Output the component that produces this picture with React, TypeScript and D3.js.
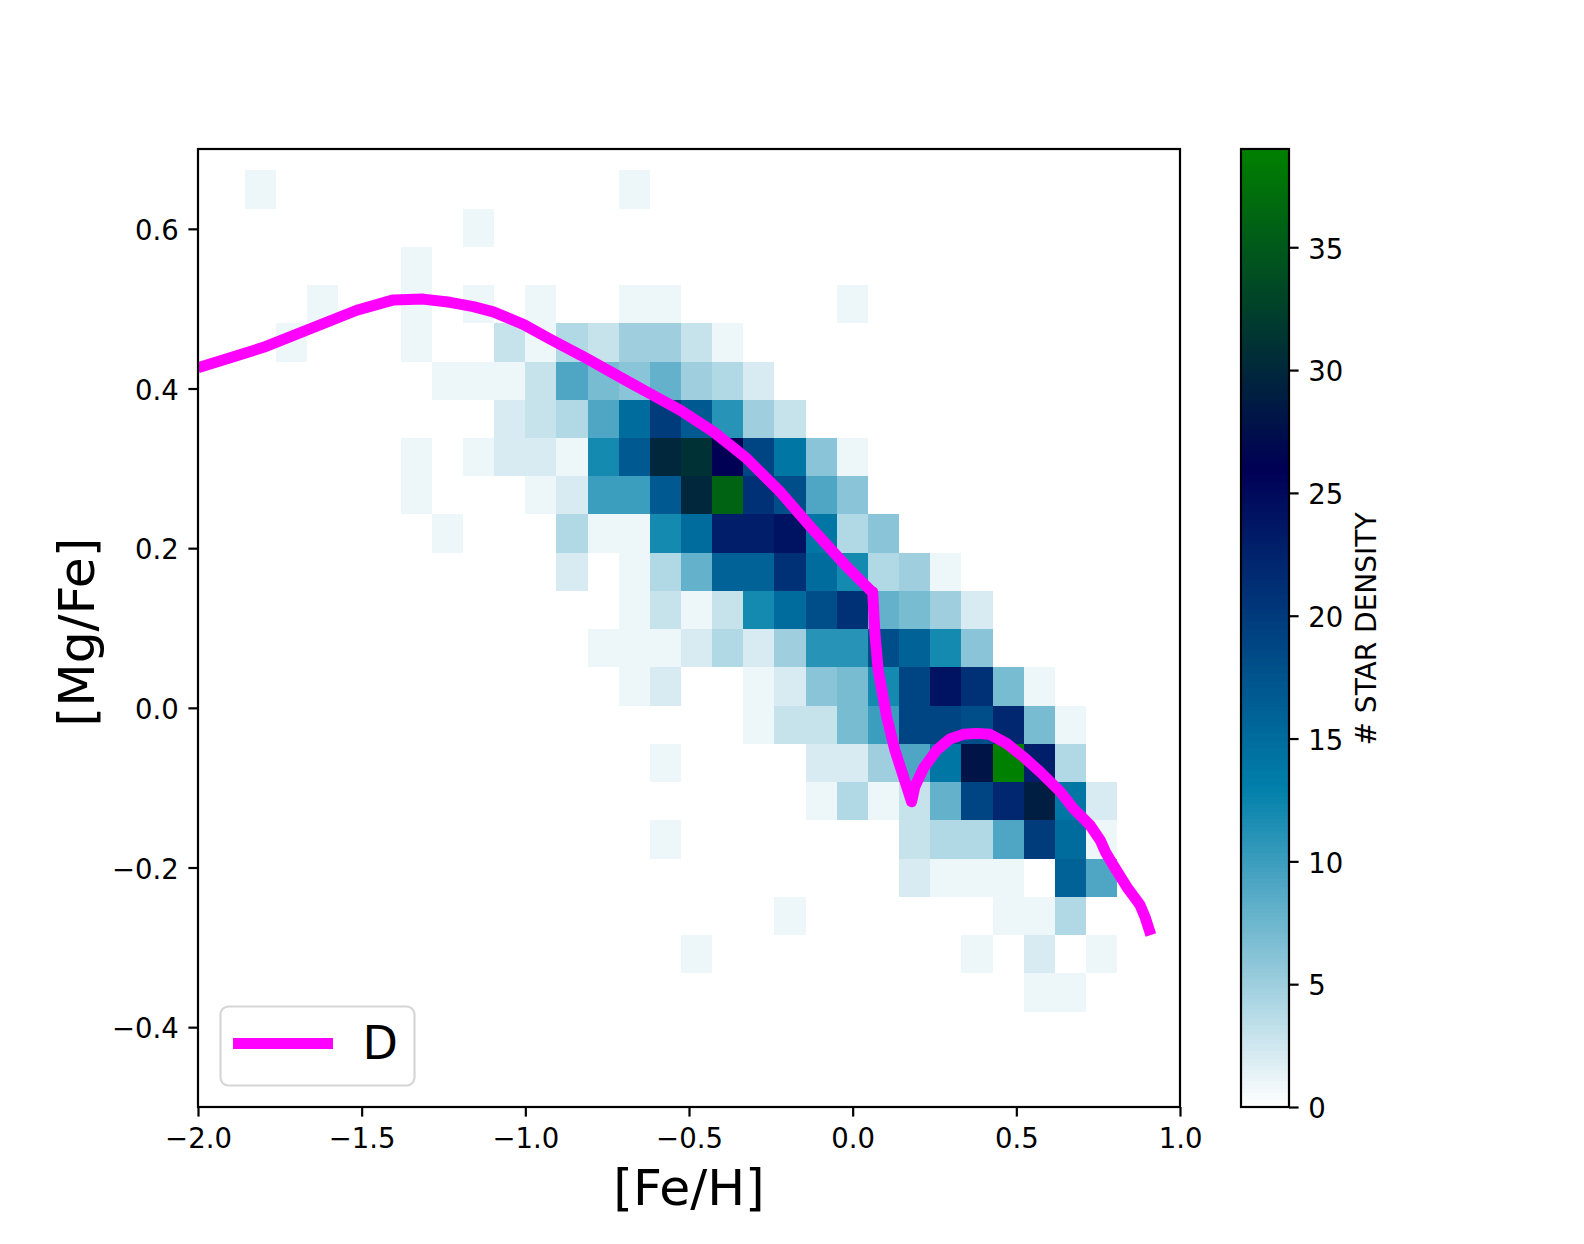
/**
 * D3 2D histogram of [Mg/Fe] vs [Fe/H] with a model track and a density colorbar.
 */
import * as d3 from 'd3';
import { useEffect, useRef } from 'react';

const WIDTH = 1584;
const HEIGHT = 1244;
const FONT = '"DejaVu Sans", sans-serif';

// Histogram bins: lower edge of the first column, upper edge of the first row
const BIN_X0 = -1.8564;
const BIN_DX = 0.09515;
const BIN_Y0 = 0.6732;
const BIN_DY = 0.04789;

// Star counts, one row per [Mg/Fe] bin from the top; each row starts at column 0
const row00 = [1, 0, 0, 0, 0, 0, 0, 0, 0, 0, 0, 0, 1];
const row01 = [0, 0, 0, 0, 0, 0, 0, 1];
const row02 = [0, 0, 0, 0, 0, 1];
const row03 = [0, 0, 1, 0, 0, 1, 0, 1, 0, 1, 0, 0, 1, 1, 0, 0, 0, 0, 0, 1];
const row04 = [0, 1, 0, 0, 0, 1, 0, 0, 3, 1, 4, 3, 5, 5, 3, 1];
const row05 = [0, 0, 0, 0, 0, 0, 1, 1, 1, 3, 9, 7, 6, 8, 5, 4, 2];
const row06 = [0, 0, 0, 0, 0, 0, 0, 0, 2, 3, 4, 9, 15, 20, 17, 11, 5, 3];
const row07 = [0, 0, 0, 0, 0, 1, 0, 1, 2, 2, 1, 12, 17, 30, 31, 26, 19, 14, 6, 1];
const row08 = [0, 0, 0, 0, 0, 1, 0, 0, 0, 1, 2, 10, 10, 17, 30, 36, 21, 18, 9, 6];
const row09 = [0, 0, 0, 0, 0, 0, 1, 0, 0, 0, 4, 1, 1, 12, 15, 23, 23, 24, 14, 4, 6];
const row10 = [0, 0, 0, 0, 0, 0, 0, 0, 0, 0, 2, 0, 1, 4, 8, 16, 16, 21, 15, 12, 4, 5, 1];
const row11 = [0, 0, 0, 0, 0, 0, 0, 0, 0, 0, 0, 0, 1, 3, 1, 3, 12, 15, 18, 21, 8, 7, 5, 2];
const row12 = [0, 0, 0, 0, 0, 0, 0, 0, 0, 0, 0, 1, 1, 1, 2, 4, 2, 5, 11, 11, 18, 16, 12, 6];
const row13 = [0, 0, 0, 0, 0, 0, 0, 0, 0, 0, 0, 0, 1, 2, 0, 0, 1, 2, 6, 7, 12, 19, 24, 21, 7, 1];
const row14 = [0, 0, 0, 0, 0, 0, 0, 0, 0, 0, 0, 0, 0, 0, 0, 0, 1, 3, 3, 7, 10, 19, 19, 18, 22, 7, 1];
const row15 = [0, 0, 0, 0, 0, 0, 0, 0, 0, 0, 0, 0, 0, 1, 0, 0, 0, 0, 2, 2, 5, 9, 14, 28, 39, 23, 4];
const row16 = [0, 0, 0, 0, 0, 0, 0, 0, 0, 0, 0, 0, 0, 0, 0, 0, 0, 0, 1, 4, 1, 3, 8, 19, 22, 29, 14, 2];
const row17 = [0, 0, 0, 0, 0, 0, 0, 0, 0, 0, 0, 0, 0, 1, 0, 0, 0, 0, 0, 0, 0, 3, 4, 4, 9, 20, 15, 1];
const row18 = [0, 0, 0, 0, 0, 0, 0, 0, 0, 0, 0, 0, 0, 0, 0, 0, 0, 0, 0, 0, 0, 2, 1, 1, 1, 0, 16, 9];
const row19 = [0, 0, 0, 0, 0, 0, 0, 0, 0, 0, 0, 0, 0, 0, 0, 0, 0, 1, 0, 0, 0, 0, 0, 0, 1, 1, 4];
const row20 = [0, 0, 0, 0, 0, 0, 0, 0, 0, 0, 0, 0, 0, 0, 1, 0, 0, 0, 0, 0, 0, 0, 0, 1, 0, 2, 0, 1];
const row21 = [0, 0, 0, 0, 0, 0, 0, 0, 0, 0, 0, 0, 0, 0, 0, 0, 0, 0, 0, 0, 0, 0, 0, 0, 0, 1, 1];
const counts = [
  row00, row01, row02, row03, row04, row05, row06, row07, row08, row09, row10,
  row11, row12, row13, row14, row15, row16, row17, row18, row19, row20, row21,
];
const MAX_COUNT = 39;

// Model track
const curveFeH = [
  -2, -1.8, -1.515, -1.403, -1.312, -1.23, -1.159, -1.098, -1.006, -0.925, -0.823, -0.701, -0.599,
  -0.527, -0.426, -0.324, -0.222, -0.12, -0.018, 0.058, 0.0612, 0.068, 0.078, 0.104, 0.129, 0.18,
  0.19, 0.216, 0.257, 0.297, 0.338, 0.379, 0.419, 0.47, 0.521, 0.572, 0.634, 0.674, 0.725, 0.756,
  0.772, 0.796, 0.837, 0.878, 0.893, 0.911,
];
const curveMgFe = [
  0.426, 0.4516, 0.498, 0.511, 0.512, 0.508, 0.5025, 0.496, 0.4804, 0.462, 0.44, 0.412, 0.389,
  0.373, 0.346, 0.3126, 0.2707, 0.2227, 0.1768, 0.1455, 0.1455, 0.0934, 0.0474, -0.0111, -0.053, -0.1176,
  -0.0987, -0.0758, -0.0528, -0.0391, -0.0332, -0.032, -0.0332, -0.0445, -0.0612, -0.08, -0.105, -0.126, -0.147, -0.1656,
  -0.1804, -0.197, -0.224, -0.247, -0.2617, -0.2846,
];

const xTicks = [-2, -1.5, -1, -0.5, 0, 0.5, 1];
const yTicks = [-0.4, -0.2, 0, 0.2, 0.4, 0.6];
const cbarTicks = [0, 5, 10, 15, 20, 25, 30, 35];

// matplotlib ocean_r, looked up in 256 levels
function oceanR(t: number) {
  const v = 1 - Math.min(Math.floor(t * 256), 255) / 255;
  const r = Math.max(3 * v - 2, 0);
  const g = Math.abs(3 * v - 1) / 2;
  return d3.rgb(r * 255, g * 255, v * 255).formatHex();
}

export default function App() {
  const svgRef = useRef<SVGSVGElement>(null);

  useEffect(() => {
    if (!svgRef.current) return;
    const svg = d3.select(svgRef.current);
    svg.selectAll('*').remove();

    const plot = { left: 198, right: 1180, top: 149, bottom: 1107 };
    const cbar = { left: 1241, right: 1289 };
    const tickSize = 9.6;
    const tickPad = 9.6;
    const lineW = 2.2;

    const x = d3.scaleLinear().domain([-2, 1]).range([plot.left, plot.right]);
    const y = d3.scaleLinear().domain([-0.5, 0.7]).range([plot.bottom, plot.top]);
    const c = d3.scaleLinear().domain([0, MAX_COUNT]).range([plot.bottom, plot.top]);

    svg.append('defs').append('clipPath').attr('id', 'plot-clip').append('rect')
      .attr('x', plot.left).attr('y', plot.top)
      .attr('width', plot.right - plot.left).attr('height', plot.bottom - plot.top);

    // Heatmap cells
    const cells = counts.flatMap((row, r) =>
      row.map((count, col) => ({ count, r, col })).filter((d) => d.count > 0),
    );
    svg.append('g')
      .attr('shape-rendering', 'crispEdges')
      .selectAll('rect')
      .data(cells)
      .join('rect')
      .attr('x', (d) => x(BIN_X0 + d.col * BIN_DX))
      .attr('y', (d) => y(BIN_Y0 - d.r * BIN_DY))
      .attr('width', x(BIN_DX) - x(0))
      .attr('height', y(0) - y(BIN_DY))
      .attr('fill', (d) => oceanR(d.count / MAX_COUNT));

    // Model track
    const line = d3.line<number>()
      .x((d) => x(d))
      .y((_, i) => y(curveMgFe[i]))
      .curve(d3.curveLinear);
    svg.append('path')
      .attr('d', line(curveFeH))
      .attr('clip-path', 'url(#plot-clip)')
      .attr('fill', 'none')
      .attr('stroke', '#ff00ff')
      .attr('stroke-width', 11)
      .attr('stroke-linejoin', 'round');

    // Frame
    svg.append('rect')
      .attr('x', plot.left).attr('y', plot.top)
      .attr('width', plot.right - plot.left).attr('height', plot.bottom - plot.top)
      .attr('fill', 'none').attr('stroke', '#000').attr('stroke-width', lineW);

    // Axes
    const fmt = d3.format('.1f');
    const gx = svg.append('g')
      .attr('transform', `translate(0,${plot.bottom})`)
      .call(d3.axisBottom(x).tickValues(xTicks).tickFormat((d) => fmt(d as number)).tickSize(tickSize).tickPadding(tickPad + 2.5));
    const gy = svg.append('g')
      .attr('transform', `translate(${plot.left},0)`)
      .call(d3.axisLeft(y).tickValues(yTicks).tickFormat((d) => fmt(d as number)).tickSize(tickSize).tickPadding(tickPad));

    // Colorbar
    const levels = d3.range(256);
    svg.append('g')
      .attr('shape-rendering', 'crispEdges')
      .selectAll('rect')
      .data(levels)
      .join('rect')
      .attr('x', cbar.left)
      .attr('width', cbar.right - cbar.left)
      .attr('y', (d) => c(((d + 1) / 256) * MAX_COUNT))
      .attr('height', (plot.bottom - plot.top) / 256 + 0.5)
      .attr('fill', (d) => oceanR((d + 0.5) / 256));
    svg.append('rect')
      .attr('x', cbar.left).attr('y', plot.top)
      .attr('width', cbar.right - cbar.left).attr('height', plot.bottom - plot.top)
      .attr('fill', 'none').attr('stroke', '#000').attr('stroke-width', lineW);
    const gc = svg.append('g')
      .attr('transform', `translate(${cbar.right},0)`)
      .call(d3.axisRight(c).tickValues(cbarTicks).tickFormat((d) => String(d)).tickSize(tickSize).tickPadding(tickPad));

    [gx, gy, gc].forEach((g) => {
      g.select('.domain').remove();
      g.selectAll('.tick line').attr('stroke', '#000').attr('stroke-width', lineW);
      g.selectAll('.tick text').attr('fill', '#000').style('font-family', FONT).style('font-size', '27.5px');
    });
    // Vertical axis labels sit a little lower than d3's default centring
    [gy, gc].forEach((g) => g.selectAll('.tick text').attr('y', 2));

    // Axis titles
    svg.append('text')
      .attr('x', (plot.left + plot.right) / 2).attr('y', 1205)
      .attr('text-anchor', 'middle')
      .style('font-family', FONT).style('font-size', '50.4px')
      .text('[Fe/H]');
    svg.append('text')
      .attr('transform', `translate(94,${(plot.top + plot.bottom) / 2 + 4}) rotate(-90)`)
      .attr('text-anchor', 'middle')
      .style('font-family', FONT).style('font-size', '50.4px')
      .text('[Mg/Fe]');
    svg.append('text')
      .attr('transform', `translate(1376,${(plot.top + plot.bottom) / 2 + 1}) rotate(-90)`)
      .attr('text-anchor', 'middle')
      .style('font-family', FONT).style('font-size', '28px')
      .text('# STAR DENSITY');

    // Legend
    const legend = svg.append('g');
    legend.append('rect')
      .attr('x', 220.5).attr('y', 1006.5).attr('width', 194).attr('height', 79).attr('rx', 8)
      .attr('fill', '#fff').attr('fill-opacity', 0.8).attr('stroke', '#d6d6d6').attr('stroke-width', lineW);
    legend.append('line')
      .attr('x1', 233).attr('x2', 333).attr('y1', 1043.5).attr('y2', 1043.5)
      .attr('stroke', '#ff00ff').attr('stroke-width', 11);
    legend.append('text')
      .attr('x', 362.5).attr('y', 1058.5)
      .style('font-family', FONT).style('font-size', '46px')
      .text('D');
  }, []);

  return (
    <svg
      ref={svgRef}
      width={WIDTH}
      height={HEIGHT}
      style={{ position: 'absolute', left: 0, top: 0, background: '#fff' }}
    />
  );
}
